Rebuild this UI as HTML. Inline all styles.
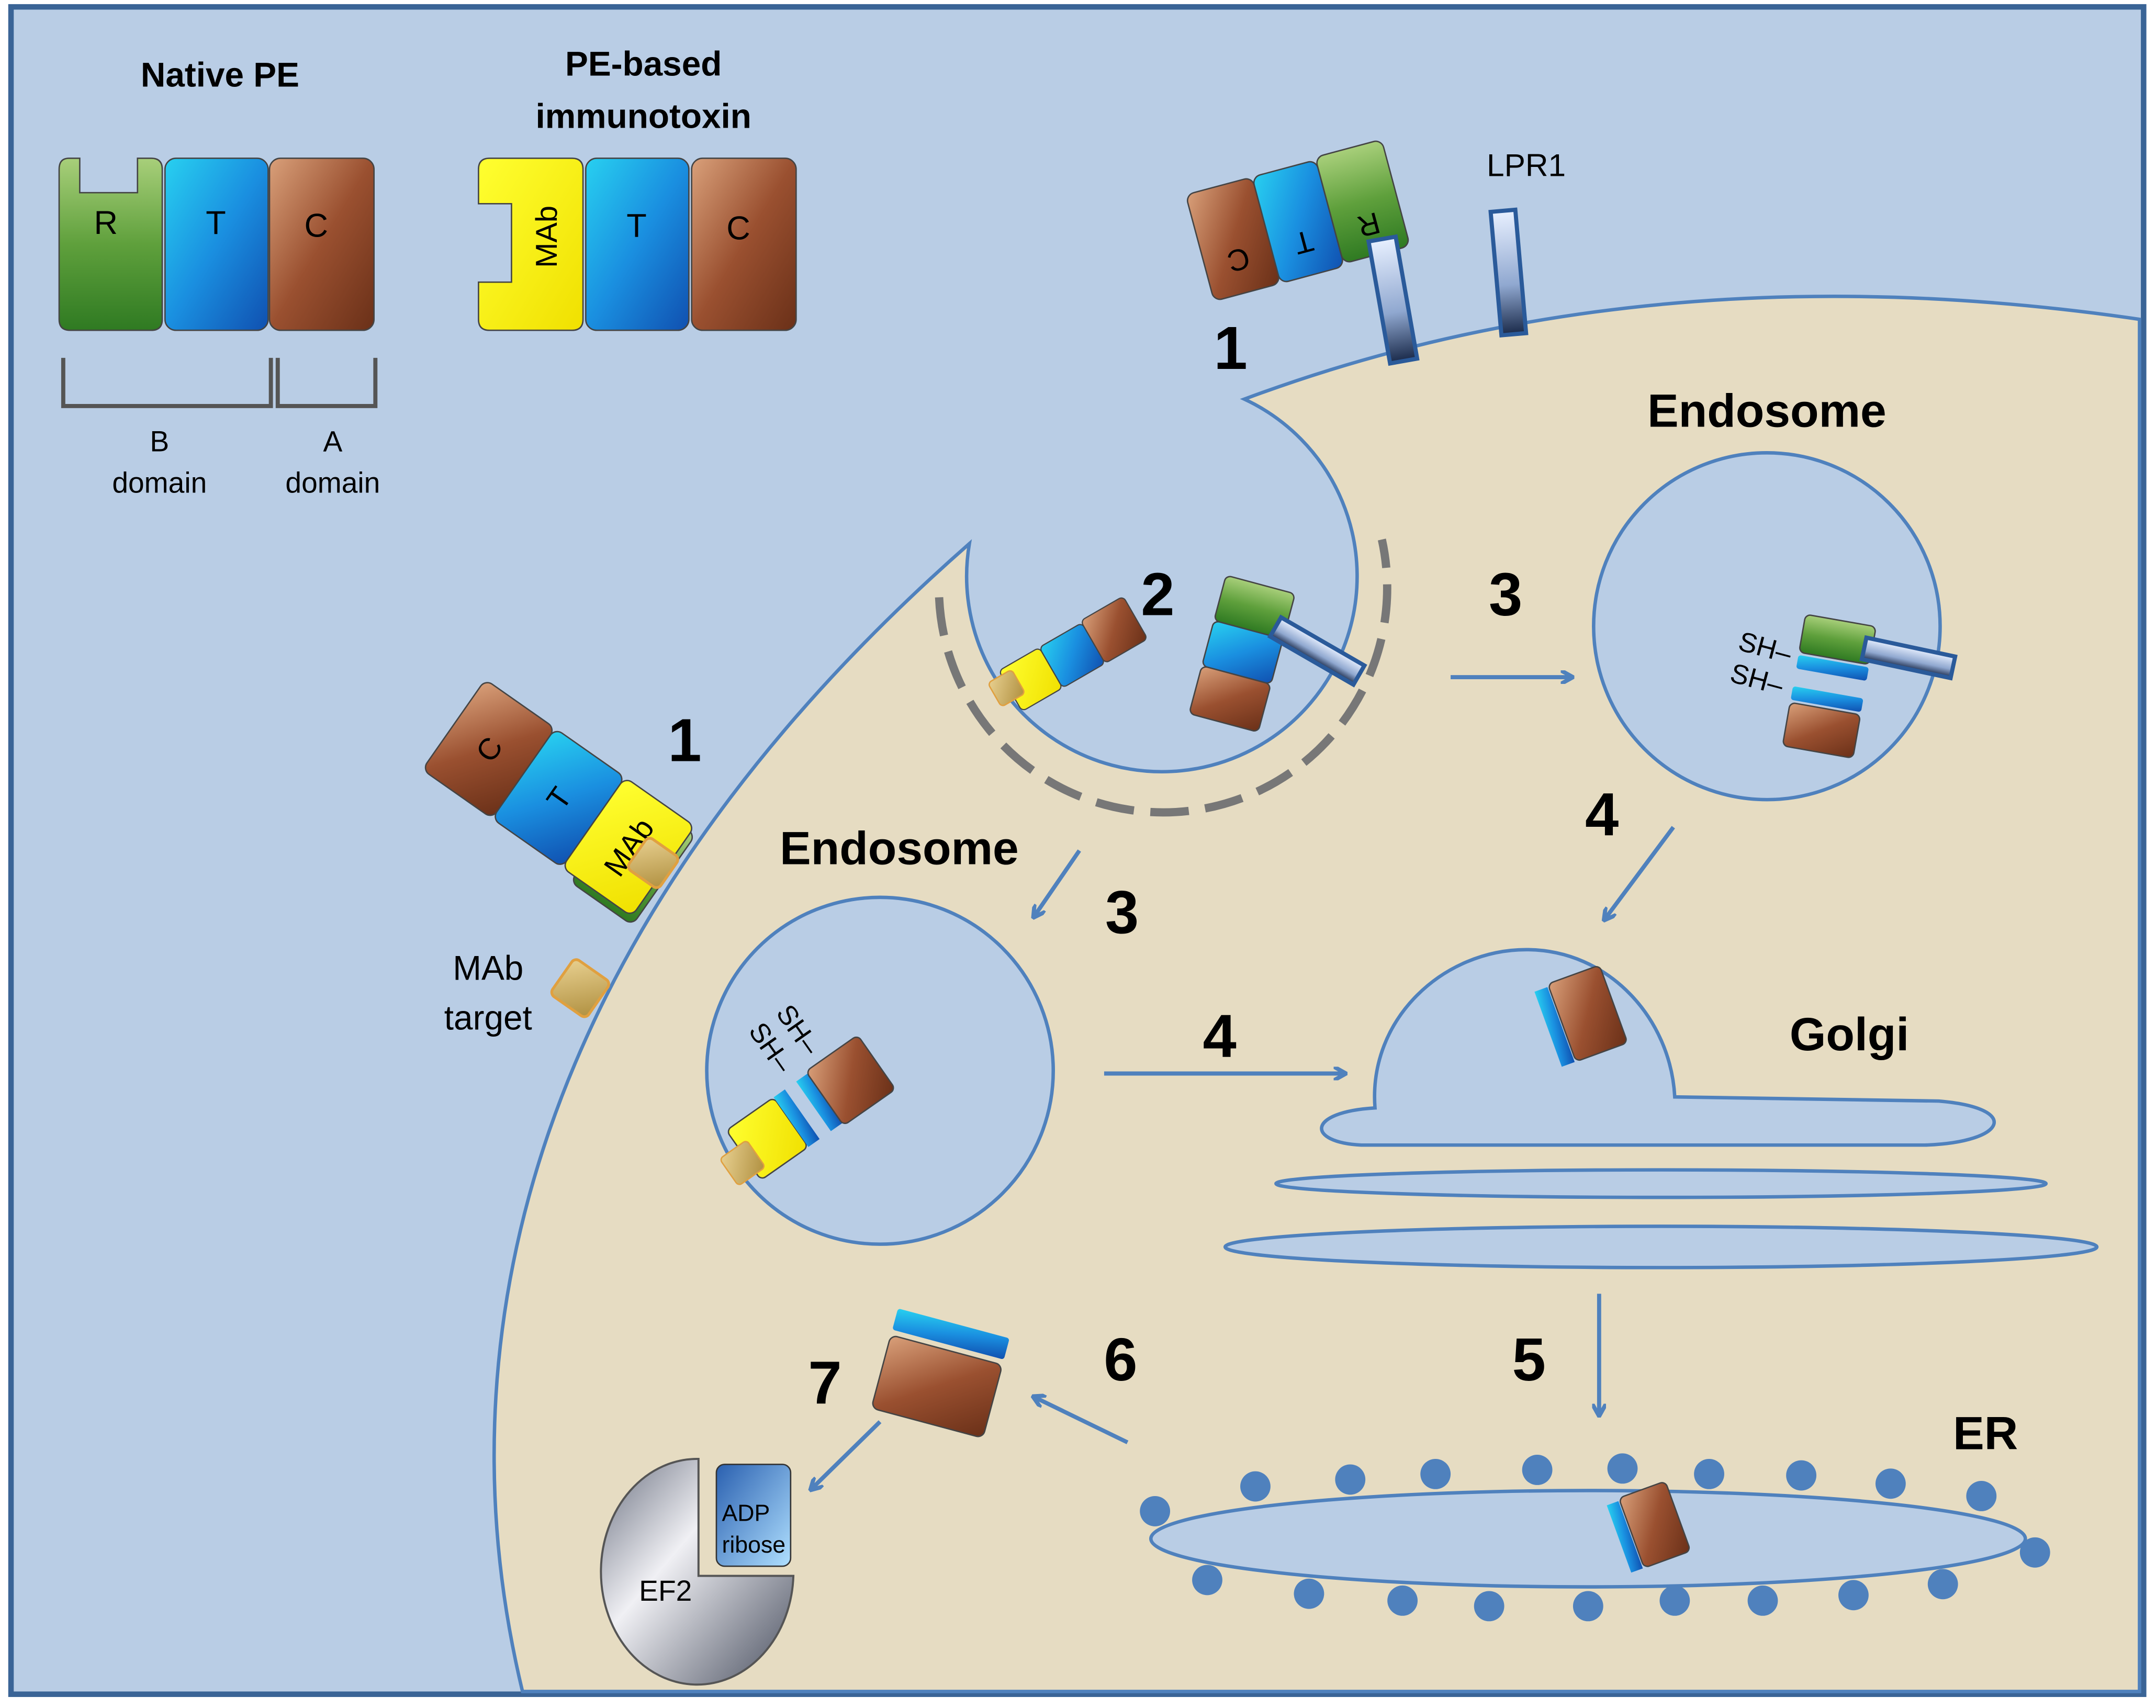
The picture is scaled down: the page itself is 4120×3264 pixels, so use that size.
<!DOCTYPE html>
<html><head><meta charset="utf-8"><style>
html,body{margin:0;padding:0;background:#fff}
svg{display:block}
text{font-family:"Liberation Sans",sans-serif}
</style></head><body>
<svg width="4120" height="3264" viewBox="0 0 1568 1241" preserveAspectRatio="none" xmlns="http://www.w3.org/2000/svg">
<defs>
<linearGradient id="gG" x1="0" y1="0" x2="0" y2="1"><stop offset="0" stop-color="#a8cf7a"/><stop offset="0.5" stop-color="#5fa03c"/><stop offset="1" stop-color="#2f7a22"/></linearGradient>
<linearGradient id="gB" x1="0" y1="0" x2="1" y2="1"><stop offset="0" stop-color="#28d0f0"/><stop offset="0.5" stop-color="#1a8fe0"/><stop offset="1" stop-color="#1050b0"/></linearGradient>
<linearGradient id="gC" x1="0" y1="0" x2="1" y2="1"><stop offset="0" stop-color="#d9a07a"/><stop offset="0.5" stop-color="#9a5030"/><stop offset="1" stop-color="#6a3018"/></linearGradient>
<linearGradient id="gY" x1="0" y1="0" x2="1" y2="1"><stop offset="0" stop-color="#ffff30"/><stop offset="1" stop-color="#f0e000"/></linearGradient>
<linearGradient id="gR" x1="0" y1="0" x2="0" y2="1"><stop offset="0" stop-color="#e8f0ff"/><stop offset="0.6" stop-color="#90a8d0"/><stop offset="1" stop-color="#1a2a4a"/></linearGradient>
<linearGradient id="gT" x1="0" y1="0" x2="1" y2="1"><stop offset="0" stop-color="#e8d090"/><stop offset="1" stop-color="#b09040"/></linearGradient>
<linearGradient id="gEF" x1="0" y1="0" x2="1" y2="1"><stop offset="0" stop-color="#6a7080"/><stop offset="0.4" stop-color="#f0f0f4"/><stop offset="1" stop-color="#4a5060"/></linearGradient>
<linearGradient id="gAD" x1="0" y1="0" x2="1" y2="1"><stop offset="0" stop-color="#2a60b0"/><stop offset="1" stop-color="#b0e0ff"/></linearGradient>
<marker id="ar" markerWidth="10" markerHeight="10" refX="8" refY="5" orient="auto" markerUnits="userSpaceOnUse"><path d="M0,0 L9,5 L0,10" fill="none" stroke="#4f81bd" stroke-width="3"/></marker>
</defs>
<rect x="0" y="0" width="1568" height="1241" fill="#fff"/>
<rect x="8" y="5" width="1551" height="1226" fill="#b9cde5" stroke="#3a6496" stroke-width="4"/>
<!-- cell -->
<path d="M905 290 Q1200 180 1556 232 L1556 1229 L380 1229 C320 980 380 680 705 395 A142 142 0 1 0 905 290 Z" fill="#e6dcc2" stroke="#4f81bd" stroke-width="2.5"/>
<path d="M683 434 A163 163 0 1 0 1005 392" fill="none" stroke="#777" stroke-width="6" stroke-dasharray="28 12"/>
<!-- Native PE -->
<text x="160" y="63" font-size="25" font-weight="bold" text-anchor="middle">Native PE</text>
<path d="M50 115 L58 115 L58 140 L100 140 L100 115 L110 115 Q118 115 118 123 L118 232 Q118 240 110 240 L51 240 Q43 240 43 232 L43 123 Q43 115 50 115Z" fill="url(#gG)" stroke="#444" stroke-width="1"/>
<rect x="120" y="115" width="75" height="125" rx="8" fill="url(#gB)" stroke="#444"/>
<rect x="196" y="115" width="76" height="125" rx="8" fill="url(#gC)" stroke="#444"/>
<text x="77" y="170" font-size="24" text-anchor="middle">R</text>
<text x="157" y="170" font-size="24" text-anchor="middle">T</text>
<text x="230" y="172" font-size="24" text-anchor="middle">C</text>
<path d="M46 260 L46 295 L197 295 L197 260 M202 260 L202 295 L273 295 L273 260" fill="none" stroke="#555" stroke-width="3"/>
<text x="116" y="328" font-size="21" text-anchor="middle">B</text>
<text x="116" y="358" font-size="21" text-anchor="middle">domain</text>
<text x="242" y="328" font-size="21" text-anchor="middle">A</text>
<text x="242" y="358" font-size="21" text-anchor="middle">domain</text>
<!-- Immunotoxin -->
<text x="468" y="55" font-size="25" font-weight="bold" text-anchor="middle">PE-based</text>
<text x="468" y="93" font-size="25" font-weight="bold" text-anchor="middle">immunotoxin</text>
<path d="M356 115 L416 115 Q424 115 424 123 L424 232 Q424 240 416 240 L356 240 Q348 240 348 232 L348 205 L372 205 L372 148 L348 148 L348 123 Q348 115 356 115Z" fill="url(#gY)" stroke="#444"/>
<rect x="426" y="115" width="75" height="125" rx="8" fill="url(#gB)" stroke="#444"/>
<rect x="503" y="115" width="76" height="125" rx="8" fill="url(#gC)" stroke="#444"/>
<text transform="translate(405,172) rotate(-90)" font-size="22" text-anchor="middle">MAb</text>
<text x="463" y="172" font-size="24" text-anchor="middle">T</text>
<text x="537" y="174" font-size="24" text-anchor="middle">C</text>
<!-- top right complex -->
<g transform="translate(948,160) rotate(-15)">
<rect x="-78" y="-40" width="50" height="80" rx="6" fill="url(#gC)" stroke="#444"/>
<rect x="-28" y="-40" width="48" height="80" rx="6" fill="url(#gB)" stroke="#444"/>
<rect x="20" y="-42" width="50" height="80" rx="6" fill="url(#gG)" stroke="#444"/>
<text transform="translate(-53,0) rotate(180)" font-size="22" text-anchor="middle" dy="-8">C</text>
<text transform="translate(-4,0) rotate(180)" font-size="22" text-anchor="middle" dy="-8">T</text>
<text transform="translate(45,0) rotate(180)" font-size="22" text-anchor="middle" dy="-8">R</text>
</g>
<g transform="translate(1013,218) rotate(-10)"><rect x="-10" y="-45" width="20" height="90" fill="url(#gR)" stroke="#2a5a9a" stroke-width="3"/></g>
<g transform="translate(1097,198) rotate(-5)"><rect x="-9" y="-45" width="18" height="90" fill="url(#gR)" stroke="#2a5a9a" stroke-width="3"/></g>
<text x="1110" y="128" font-size="23" text-anchor="middle">LPR1</text>
<!-- numbers -->
<g font-size="44" font-weight="bold" text-anchor="middle">
<text x="895" y="268">1</text><text x="842" y="447">2</text><text x="1095" y="447">3</text>
<text x="498" y="553">1</text><text x="816" y="678">3</text><text x="1165" y="607">4</text>
<text x="887" y="768">4</text><text x="1112" y="1003">5</text><text x="815" y="1003">6</text><text x="600" y="1020">7</text>
</g>
<text x="1285" y="310" font-size="34" font-weight="bold" text-anchor="middle">Endosome</text>
<text x="654" y="628" font-size="34" font-weight="bold" text-anchor="middle">Endosome</text>
<text x="1345" y="763" font-size="34" font-weight="bold" text-anchor="middle">Golgi</text>
<text x="1444" y="1053" font-size="34" font-weight="bold" text-anchor="middle">ER</text>
<!-- surface immunotoxin -->
<g transform="translate(405,585) rotate(35)">
<rect x="40" y="-40" width="55" height="80" rx="6" fill="url(#gG)" stroke="#444"/>
<rect x="-95" y="-45" width="62" height="80" rx="6" fill="url(#gC)" stroke="#444"/>
<rect x="-33" y="-45" width="62" height="80" rx="6" fill="url(#gB)" stroke="#444"/>
<rect x="29" y="-45" width="62" height="80" rx="6" fill="url(#gY)" stroke="#444"/>
<text transform="translate(-64,-5) rotate(-90)" font-size="22" text-anchor="middle" dy="8">C</text>
<text transform="translate(-2,-5) rotate(-90)" font-size="22" text-anchor="middle" dy="8">T</text>
<text transform="translate(60,-5) rotate(-90)" font-size="22" text-anchor="middle" dy="8">MAb</text>
</g>
<g transform="translate(475,627) rotate(35)"><rect x="-14" y="-14" width="28" height="28" rx="4" fill="url(#gT)" stroke="#e0a040" stroke-width="2"/></g>
<g transform="translate(422,718) rotate(35)"><rect x="-16" y="-16" width="32" height="32" rx="4" fill="url(#gT)" stroke="#e0a040" stroke-width="2"/></g>
<text x="355" y="712" font-size="25" text-anchor="middle">MAb</text>
<text x="355" y="748" font-size="25" text-anchor="middle">target</text>
<!-- pocket contents -->
<g transform="translate(768,483) rotate(-30) scale(0.85)">
<rect x="-45" y="-20" width="40" height="40" rx="4" fill="url(#gY)" stroke="#444"/>
<rect x="-5" y="-20" width="42" height="40" rx="4" fill="url(#gB)" stroke="#444"/>
<rect x="37" y="-22" width="42" height="42" rx="4" fill="url(#gC)" stroke="#444"/>
</g>
<g transform="translate(732,500) rotate(-30)"><rect x="-10" y="-10" width="20" height="20" rx="3" fill="url(#gT)" stroke="#e0a040"/></g>
<g transform="translate(900,472) rotate(15)">
<rect x="-22" y="-50" width="52" height="34" rx="4" fill="url(#gG)" stroke="#444"/>
<rect x="-22" y="-16" width="52" height="34" rx="4" fill="url(#gB)" stroke="#444"/>
<rect x="-22" y="18" width="52" height="36" rx="4" fill="url(#gC)" stroke="#444"/>
</g>
<g transform="translate(958,473) rotate(30)"><rect x="-35" y="-8" width="70" height="16" fill="url(#gR)" stroke="#2a5a9a" stroke-width="3"/></g>
<!-- endosome right -->
<circle cx="1285" cy="455" r="126" fill="#b9cde5" stroke="#4f81bd" stroke-width="2.5"/>
<g transform="translate(1330,495) rotate(10)">
<rect x="-25" y="-45" width="52" height="28" rx="4" fill="url(#gG)" stroke="#444"/>
<rect x="-25" y="-15" width="52" height="10" rx="2" fill="url(#gB)"/>
<rect x="-25" y="8" width="52" height="10" rx="2" fill="url(#gB)"/>
<rect x="-25" y="20" width="52" height="32" rx="4" fill="url(#gC)" stroke="#444"/>
</g>
<g transform="translate(1388,478) rotate(12)"><rect x="-33" y="-8" width="66" height="16" fill="url(#gR)" stroke="#2a5a9a" stroke-width="3"/></g>
<text transform="translate(1282,477) rotate(15)" font-size="20" text-anchor="middle">SH–</text>
<text transform="translate(1276,500) rotate(15)" font-size="20" text-anchor="middle">SH–</text>
<!-- endosome left -->
<circle cx="640" cy="778" r="126" fill="#b9cde5" stroke="#4f81bd" stroke-width="2.5"/>
<g transform="translate(590,805) rotate(-35)">
<rect x="-60" y="-22" width="42" height="44" rx="4" fill="url(#gY)" stroke="#444"/>
<rect x="-18" y="-22" width="10" height="44" fill="url(#gB)"/>
<rect x="2" y="-22" width="10" height="44" fill="url(#gB)"/>
<rect x="12" y="-24" width="46" height="48" rx="4" fill="url(#gC)" stroke="#444"/>
</g>
<g transform="translate(540,845) rotate(-35)"><rect x="-12" y="-12" width="24" height="24" rx="3" fill="url(#gT)" stroke="#e0a040"/></g>
<text transform="translate(555,765) rotate(55)" font-size="20" text-anchor="middle">SH–</text>
<text transform="translate(575,752) rotate(55)" font-size="20" text-anchor="middle">SH–</text>
<!-- Golgi -->
<path d="M1000 805 C995 740 1050 690 1110 690 C1170 690 1215 740 1218 797 L1410 800 C1470 805 1460 830 1400 832 L990 832 C950 830 950 808 1000 805Z" fill="#b9cde5" stroke="#4f81bd" stroke-width="2.5"/>
<ellipse cx="1208" cy="860" rx="280" ry="10" fill="#b9cde5" stroke="#4f81bd" stroke-width="2.5"/>
<ellipse cx="1208" cy="906" rx="317" ry="15" fill="#b9cde5" stroke="#4f81bd" stroke-width="2.5"/>
<g transform="translate(1150,738) rotate(-20)">
<rect x="-26" y="-28" width="10" height="58" fill="url(#gB)"/>
<rect x="-15" y="-30" width="40" height="60" rx="4" fill="url(#gC)" stroke="#444"/>
</g>
<!-- ER -->
<ellipse cx="1155" cy="1118" rx="318" ry="35" fill="#b9cde5" stroke="#4f81bd" stroke-width="2.5"/>
<g transform="translate(1200,1110) rotate(-20)">
<rect x="-24" y="-26" width="9" height="52" fill="url(#gB)"/>
<rect x="-14" y="-28" width="36" height="54" rx="4" fill="url(#gC)" stroke="#444"/>
</g>
<g fill="#4f81bd">
<circle cx="840" cy="1098" r="11"/><circle cx="913" cy="1080" r="11"/><circle cx="982" cy="1075" r="11"/><circle cx="1044" cy="1071" r="11"/><circle cx="1118" cy="1068" r="11"/><circle cx="1180" cy="1067" r="11"/><circle cx="1243" cy="1071" r="11"/><circle cx="1310" cy="1072" r="11"/><circle cx="1375" cy="1078" r="11"/><circle cx="1441" cy="1087" r="11"/><circle cx="1480" cy="1128" r="11"/>
<circle cx="878" cy="1148" r="11"/><circle cx="952" cy="1158" r="11"/><circle cx="1020" cy="1163" r="11"/><circle cx="1083" cy="1167" r="11"/><circle cx="1155" cy="1167" r="11"/><circle cx="1218" cy="1163" r="11"/><circle cx="1282" cy="1163" r="11"/><circle cx="1348" cy="1159" r="11"/><circle cx="1413" cy="1151" r="11"/>
</g>
<!-- free A domain -->
<g transform="translate(682,1005) rotate(15)">
<rect x="-42" y="-45" width="84" height="16" rx="2" fill="url(#gB)"/>
<rect x="-42" y="-25" width="84" height="55" rx="5" fill="url(#gC)" stroke="#444"/>
</g>
<!-- EF2 -->
<path d="M508 1060 A70 82 0 1 0 577 1145 L508 1145 Z" fill="url(#gEF)" stroke="#555" stroke-width="1.5"/>
<rect x="521" y="1064" width="54" height="74" rx="6" fill="url(#gAD)" stroke="#333"/>
<text x="525" y="1105" font-size="17">ADP</text>
<text x="525" y="1128" font-size="17">ribose</text>
<text x="484" y="1163" font-size="21" text-anchor="middle">EF2</text>
<!-- arrows -->
<g stroke="#4f81bd" stroke-width="3" marker-end="url(#ar)">
<line x1="1055" y1="492" x2="1143" y2="492"/>
<line x1="1217" y1="601" x2="1167" y2="668"/>
<line x1="785" y1="618" x2="752" y2="666"/>
<line x1="803" y1="780" x2="978" y2="780"/>
<line x1="1163" y1="940" x2="1163" y2="1028"/>
<line x1="820" y1="1048" x2="752" y2="1015"/>
<line x1="640" y1="1033" x2="590" y2="1082"/>
</g>
</svg>
</body></html>
